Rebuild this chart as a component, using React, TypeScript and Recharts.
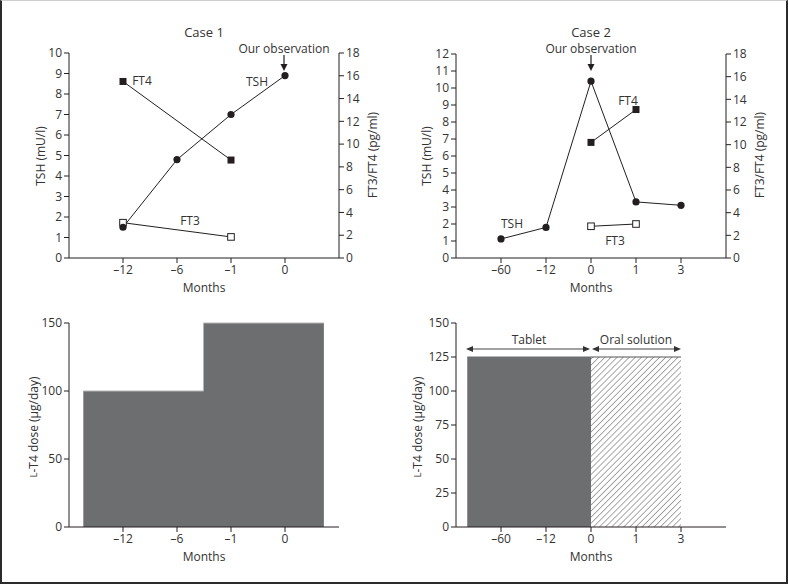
import React from 'react';
import { ComposedChart, Line, Area, XAxis, YAxis } from 'recharts';

// ---------- data ----------
const case1Months = ['–12', '–6', '–1', '0'];
const case1TSH = [1.5, 4.8, 7.0, 8.9];
const case1FT4 = [15.5, null, 8.6, null];
const case1FT3 = [3.1, null, 1.85, null];

const case2Months = ['–60', '–12', '0', '1', '3'];
const case2TSH = [1.12, 1.8, 10.4, 3.3, 3.1];
const case2FT4 = [null, null, 10.2, 13.1, null];
const case2FT3 = [null, null, 2.8, 3.0, null];

// dose periods, positions in month-slot units (slot 1 = first month tick)
const case1DoseX = [0.265, 2.49, 4.72];
const case1Dose = [100, 150, 150];

const case2DoseX = [0.25, 3, 5];
const case2Tablet = [125, 125, null];
const case2Solution = [null, 125, 125];

const tshTicks1 = [0, 1, 2, 3, 4, 5, 6, 7, 8, 9, 10];
const tshTicks2 = [0, 1, 2, 3, 4, 5, 6, 7, 8, 9, 10, 11, 12];
const ftTicks = [0, 2, 4, 6, 8, 10, 12, 14, 16, 18];
const doseTicks1 = [0, 50, 100, 150];
const doseTicks2 = [0, 25, 50, 75, 100, 125, 150];

const hormoneRows1 = case1Months.map((m, i) => ({ x: i + 1, tsh: case1TSH[i], ft4: case1FT4[i], ft3: case1FT3[i] }));
const hormoneRows2 = case2Months.map((m, i) => ({ x: i + 1, tsh: case2TSH[i], ft4: case2FT4[i], ft3: case2FT3[i] }));
const doseRows1 = case1DoseX.map((x, i) => ({ x, dose: case1Dose[i] }));
const doseRows2 = case2DoseX.map((x, i) => ({ x, tablet: case2Tablet[i], solution: case2Solution[i] }));

// ---------- styles ----------
const FONT = "'Open Sans', sans-serif";
const INK = '#231f20';
const TXT = '#333333';
const tickStyle = { fontSize: 12, fill: TXT, fontFamily: FONT };
const axisProps = {
  stroke: INK,
  tickLine: { stroke: INK },
  axisLine: { stroke: INK },
  tickSize: 5,
  tick: tickStyle,
};

const circleDot = (props: any) => {
  const { cx, cy, index } = props;
  if (cx == null || cy == null) return <g key={'c' + index} />;
  return <circle key={'c' + index} cx={cx} cy={cy} r={3.6} fill={INK} stroke="none" />;
};
const filledSquare = (props: any) => {
  const { cx, cy, index } = props;
  if (cx == null || cy == null) return <g key={'f' + index} />;
  return <rect key={'f' + index} x={cx - 3.5} y={cy - 3.5} width={7} height={7} fill={INK} />;
};
const openSquare = (props: any) => {
  const { cx, cy, index } = props;
  if (cx == null || cy == null) return <g key={'o' + index} />;
  return <rect key={'o' + index} x={cx - 3.3} y={cy - 3.3} width={6.6} height={6.6} fill="#fff" stroke={INK} strokeWidth={1} />;
};

function HormoneChart({ rows, months, tshTicks, tshMax, margin }: any) {
  return (
    <ComposedChart width={394} height={300} data={rows} margin={margin}>
      <XAxis
        dataKey="x"
        type="number"
        domain={[0, months.length + 1]}
        ticks={months.map((_: any, i: number) => i + 1)}
        tickFormatter={(v: number) => months[v - 1]}
        height={30}
        {...axisProps}
      />
      <YAxis yAxisId="left" domain={[0, tshMax]} ticks={tshTicks} width={40} interval={0} {...axisProps} />
      <YAxis yAxisId="right" orientation="right" domain={[0, 18]} ticks={ftTicks} width={40} interval={0} {...axisProps} />
      <Line yAxisId="right" dataKey="ft4" stroke={INK} strokeWidth={1} connectNulls dot={filledSquare} activeDot={false} isAnimationActive={false} />
      <Line yAxisId="right" dataKey="ft3" stroke={INK} strokeWidth={1} connectNulls dot={openSquare} activeDot={false} isAnimationActive={false} />
      <Line yAxisId="left" dataKey="tsh" stroke={INK} strokeWidth={1} dot={circleDot} activeDot={false} isAnimationActive={false} />
    </ComposedChart>
  );
}

function DoseChart({ rows, months, ticks, margin, children }: any) {
  return (
    <ComposedChart width={394} height={284} data={rows} margin={margin}>
      <XAxis
        dataKey="x"
        type="number"
        domain={[0, months.length + 1]}
        ticks={months.map((_: any, i: number) => i + 1)}
        tickFormatter={(v: number) => months[v - 1]}
        height={30}
        {...axisProps}
      />
      <YAxis domain={[0, 150]} ticks={ticks} width={40} interval={0} {...axisProps} />
      {children}
    </ComposedChart>
  );
}

const T = (p: any) => (
  <text fontFamily={FONT} fontSize={12} fill={TXT} textAnchor="middle" dominantBaseline="central" {...p} />
);

const DownArrow = ({ x }: { x: number }) => (
  <g>
    <line x1={x} y1={55} x2={x} y2={65} stroke={INK} strokeWidth={1.2} />
    <polygon points={`${x - 3.5},64 ${x + 3.5},64 ${x},71`} fill={INK} />
  </g>
);

const DoseLabel = ({ x, y }: { x: number; y: number }) => (
  <T x={x} y={y} transform={`rotate(-90 ${x} ${y})`}>
    <tspan fontSize={9.5}>L</tspan>-T4 dose (µg/day)
  </T>
);

export default function App() {
  return (
    <div
      style={{
        position: 'absolute',
        left: 0,
        top: 0,
        width: 788,
        height: 584,
        background: '#fff',
        boxSizing: 'border-box',
        borderLeft: '2px solid #2b2b2b',
        borderRight: '2px solid #2b2b2b',
        borderBottom: '2px solid #2b2b2b',
        borderTop: '1px solid #cfcfcf',
        overflow: 'hidden',
      }}
    >
      <svg width={0} height={0} style={{ position: 'absolute' }}>
        <defs>
          <pattern id="hatch" patternUnits="userSpaceOnUse" width={4.3} height={4.3} patternTransform="rotate(45)">
            <rect width={4.3} height={4.3} fill="#fff" />
            <line x1={0} y1={0} x2={0} y2={4.3} stroke="#7a7a7a" strokeWidth={1.3} />
          </pattern>
        </defs>
      </svg>
      <div style={{ position: 'absolute', left: -2, top: -1 }}>
        <div style={{ position: 'absolute', left: 0, top: 0 }}>
          <HormoneChart rows={hormoneRows1} months={case1Months} tshTicks={tshTicks1} tshMax={10}
            margin={{ top: 53, right: 15, bottom: 12, left: 29 }} />
        </div>
        <div style={{ position: 'absolute', left: 394, top: 0 }}>
          <HormoneChart rows={hormoneRows2} months={case2Months} tshTicks={tshTicks2} tshMax={12}
            margin={{ top: 54, right: 22, bottom: 12, left: 22 }} />
        </div>
        <div style={{ position: 'absolute', left: 0, top: 300 }}>
          <DoseChart rows={doseRows1} months={case1Months} ticks={doseTicks1}
            margin={{ top: 23, right: 55, bottom: 27, left: 29 }}>
            <Area dataKey="dose" type="stepAfter" fill="#6d6e70" fillOpacity={1} stroke="#b5b5b5" strokeWidth={1}
              dot={false} activeDot={false} isAnimationActive={false} />
          </DoseChart>
        </div>
        <div style={{ position: 'absolute', left: 394, top: 300 }}>
          <DoseChart rows={doseRows2} months={case2Months} ticks={doseTicks2}
            margin={{ top: 23, right: 62, bottom: 27, left: 22 }}>
            <Area dataKey="tablet" type="linear" fill="#6d6e70" fillOpacity={1} stroke="#6d6e70" strokeWidth={1}
              dot={false} activeDot={false} isAnimationActive={false} />
            <Area dataKey="solution" type="linear" fill="url(#hatch)" fillOpacity={1} stroke="#555" strokeWidth={1}
              dot={false} activeDot={false} isAnimationActive={false} />
          </DoseChart>
        </div>
        <svg width={788} height={584} style={{ position: 'absolute', left: 0, top: 0, pointerEvents: 'none' }}>
          {/* Case 1 */}
          <T x={204} y={32} fontSize={13}>Case 1</T>
          <T x={284} y={48}>Our observation</T>
          <DownArrow x={284} />
          <T x={142} y={80}>FT4</T>
          <T x={257} y={81}>TSH</T>
          <T x={190} y={220}>FT3</T>
          <T x={40} y={156} transform="rotate(-90 40 156)">TSH (mU/l)</T>
          <T x={372} y={155} transform="rotate(-90 372 155)">FT3/FT4 (pg/ml)</T>
          <T x={204} y={287}>Months</T>
          {/* Case 2 */}
          <T x={591} y={32} fontSize={13}>Case 2</T>
          <T x={591} y={48}>Our observation</T>
          <DownArrow x={591} />
          <T x={628} y={100}>FT4</T>
          <T x={512} y={223}>TSH</T>
          <T x={615} y={240}>FT3</T>
          <T x={426} y={156} transform="rotate(-90 426 156)">TSH (mU/l)</T>
          <T x={759} y={155} transform="rotate(-90 759 155)">FT3/FT4 (pg/ml)</T>
          <T x={591} y={287}>Months</T>
          {/* Dose panels */}
          <DoseLabel x={33} y={427} />
          <T x={204} y={556}>Months</T>
          <DoseLabel x={417} y={427} />
          <T x={591} y={556}>Months</T>
          <T x={529} y={339}>Tablet</T>
          <T x={636} y={339}>Oral solution</T>
          <line x1={470} y1={349} x2={586} y2={349} stroke="#444" strokeWidth={1.2} />
          <polygon points="466,349 473,346 473,352" fill="#333" />
          <polygon points="590,349 583,346 583,352" fill="#333" />
          <line x1={596} y1={349} x2={677} y2={349} stroke="#444" strokeWidth={1.2} />
          <polygon points="592,349 599,346 599,352" fill="#333" />
          <polygon points="681,349 674,346 674,352" fill="#333" />
        </svg>
      </div>
    </div>
  );
}
